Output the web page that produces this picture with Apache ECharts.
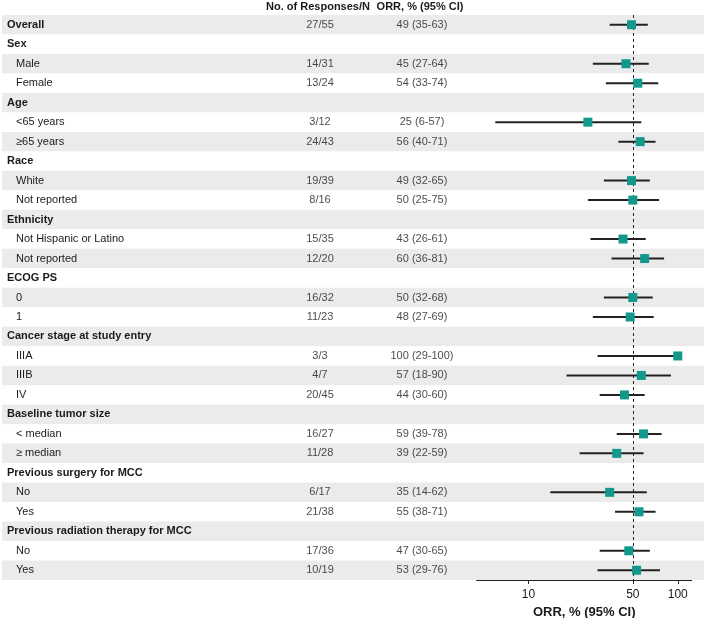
<!DOCTYPE html>
<html>
<head>
<meta charset="utf-8">
<script src="https://cdn.jsdelivr.net/npm/echarts@6/dist/echarts.min.js"></script>
<style>html,body{margin:0;padding:0;background:#fff}#c{width:708px;height:618px}</style>
</head>
<body>
<div id="c"></div>
<script>
const labels = ['Overall','Sex','Male','Female','Age','<65 years','≥65 years','Race','White','Not reported','Ethnicity','Not Hispanic or Latino','Not reported','ECOG PS','0','1','Cancer stage at study entry','IIIA','IIIB','IV','Baseline tumor size','< median','≥ median','Previous surgery for MCC','No','Yes','Previous radiation therapy for MCC','No','Yes'];
const level = [0,0,1,1,0,1,1,0,1,1,0,1,1,0,1,1,0,1,1,1,0,1,1,0,1,1,0,1,1];
const counts = ['27/55','','14/31','13/24','','3/12','24/43','','19/39','8/16','','15/35','12/20','','16/32','11/23','','3/3','4/7','20/45','','16/27','11/28','','6/17','21/38','','17/36','10/19'];
const orr = [49,null,45,54,null,25,56,null,49,50,null,43,60,null,50,48,null,100,57,44,null,59,39,null,35,55,null,47,53];
const lo  = [35,null,27,33,null,6,40,null,32,25,null,26,36,null,32,27,null,29,18,30,null,39,22,null,14,38,null,30,29];
const hi  = [63,null,64,74,null,57,71,null,65,75,null,61,81,null,68,69,null,100,90,60,null,78,59,null,62,71,null,65,76];
const xTicks = [10, 50, 100];
const refValue = 50;

const FONT = '"Liberation Sans Narrow","Arial Narrow","Liberation Sans",Arial,sans-serif';
const FS = 11;
const TXT = '#1a1a1a';
const TEAL = '#12998b';
const TOP = 15, BOTTOM = 38;

const countData = [], orrTextData = [], ciData = [], ptData = [];
labels.forEach((l, i) => {
  if (counts[i]) countData.push({value: [318, i], txt: counts[i]});
  if (orr[i] != null) {
    orrTextData.push({value: [420, i], txt: orr[i] + ' (' + lo[i] + '-' + hi[i] + ')'});
    ciData.push([lo[i], hi[i], i]);
    ptData.push([orr[i], i]);
  }
});

const chart = echarts.init(document.getElementById('c'), null, {renderer: 'canvas'});
chart.setOption({
  animation: false,
  textStyle: {fontFamily: FONT},
  grid: [
    {left: 2, right: 4, top: TOP, bottom: BOTTOM, outerBoundsMode: 'none', containLabel: false},
    {left: 476.7, right: 16.3, top: TOP, bottom: BOTTOM, outerBoundsMode: 'none', containLabel: false}
  ],
  graphic: [
    {type: 'text', x: 318, y: 7, style: {text: 'No. of Responses/N', font: 'bold ' + FS + 'px ' + FONT, fill: TXT, textAlign: 'center', textVerticalAlign: 'middle'}},
    {type: 'text', x: 420, y: 7, style: {text: 'ORR, % (95% CI)', font: 'bold ' + FS + 'px ' + FONT, fill: TXT, textAlign: 'center', textVerticalAlign: 'middle'}}
  ],
  xAxis: [
    {gridIndex: 0, type: 'value', min: 0, max: 702, show: false},
    {gridIndex: 1, type: 'log', min: 4.5, max: 124,
      axisLine: {show: true, onZero: false, lineStyle: {color: '#222', width: 1}},
      axisTick: {show: true, length: 4, customValues: xTicks, lineStyle: {color: '#222'}},
      axisLabel: {customValues: xTicks, color: TXT, fontSize: 12, margin: 9, fontFamily: FONT},
      minorTick: {show: false}, splitLine: {show: false},
      name: 'ORR, % (95% CI)', nameLocation: 'middle', nameGap: 25,
      nameTextStyle: {fontWeight: 'bold', fontSize: 13, color: TXT, fontFamily: FONT}
    }
  ],
  yAxis: [
    {gridIndex: 0, type: 'category', inverse: true, data: labels,
      axisLine: {show: false}, axisTick: {show: false},
      splitArea: {show: true, areaStyle: {color: ['#ebebeb', '#ffffff']}},
      axisLabel: {inside: true, margin: 5, align: 'left', fontSize: FS, color: TXT, fontFamily: FONT,
        formatter: (v, i) => level[i] === 0 ? '{b|' + v + '}' : '{n|' + v + '}',
        rich: {b: {fontWeight: 'bold', fontSize: FS, fontFamily: FONT, color: TXT},
               n: {fontSize: FS, fontFamily: FONT, color: TXT, padding: [0, 0, 0, 9]}}}
    },
    {gridIndex: 1, type: 'category', inverse: true, data: labels, show: false}
  ],
  series: [
    {type: 'scatter', xAxisIndex: 0, yAxisIndex: 0, data: countData, symbolSize: 0, silent: true,
      label: {show: true, position: 'inside', formatter: p => p.data.txt, color: TXT, fontSize: FS, fontFamily: FONT}},
    {type: 'scatter', xAxisIndex: 0, yAxisIndex: 0, data: orrTextData, symbolSize: 0, silent: true,
      label: {show: true, position: 'inside', formatter: p => p.data.txt, color: TXT, fontSize: FS, fontFamily: FONT}},
    {type: 'custom', xAxisIndex: 1, yAxisIndex: 1, data: ciData, silent: true,
      encode: {x: [0, 1], y: 2},
      renderItem: (params, api) => {
        const a = api.coord([api.value(0), api.value(2)]);
        const b = api.coord([api.value(1), api.value(2)]);
        return {type: 'line', shape: {x1: a[0], y1: a[1], x2: b[0], y2: b[1]},
          style: {stroke: '#222', lineWidth: 2}};
      }},
    {type: 'scatter', xAxisIndex: 1, yAxisIndex: 1, data: ptData, symbol: 'rect', symbolSize: 9,
      itemStyle: {color: TEAL, opacity: 1}, z: 5,
      markLine: {silent: true, symbol: 'none', label: {show: false},
        lineStyle: {type: [3, 3], color: '#222', width: 1},
        data: [{xAxis: refValue}]}}
  ]
});
</script>
</body>
</html>
